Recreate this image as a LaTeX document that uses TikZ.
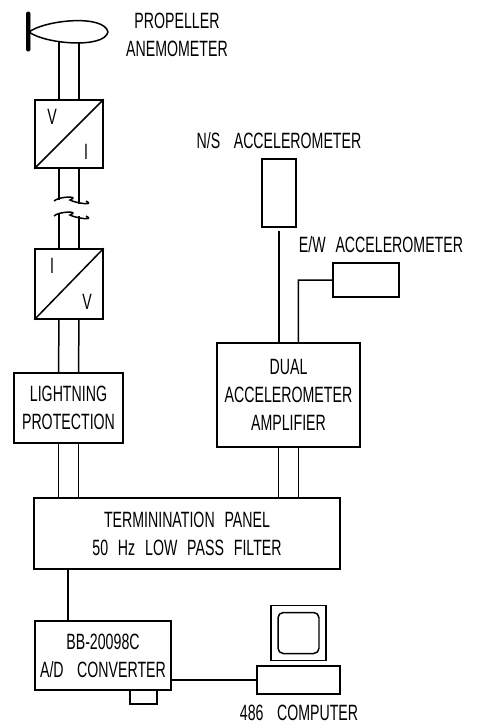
\documentclass[tikz,border=0pt]{standalone}
\usepackage{fontspec}
\setmainfont[FakeStretch=0.64, WordSpace=2.5]{Liberation Sans}
\usepackage{tikz}
\usetikzlibrary{positioning, calc}

\begin{document}
\begin{tikzpicture}[
    x=0.02cm, y=-0.02cm,
    every node/.style={font=\fontsize{12.6}{16}\selectfont, inner sep=0pt},
    wire/.style={draw, line width=0.85pt},
    block/.style={draw, line width=0.85pt, align=center},
    conv/.style={block, minimum width=1.36cm, minimum height=1.36cm}
]
\useasboundingbox (0,0) rectangle (481,727);

% propeller
\coordinate (hub) at (29,32);
\coordinate (foil_s) at (69,42);
\draw[wire] (hub) .. controls (45,20) and (104,14) .. (108,32)
    .. controls (104,49) and (45,44) .. (hub);
\draw[fill=black, rounded corners=0.6pt, line width=0.3pt] (26.5,12) rectangle (30,51);
\node (propeller) at (177,35) [align=center] {PROPELLER\\ANEMOMETER};

% left column
\node[conv] (vi) at (69,134) {};
\draw[wire] (vi.south west) -- (vi.north east);
\node (vi_v) at (52,117) {V};
\node (vi_i) at (86,152) {I};
\node[conv, minimum height=1.4cm] (iv) at (69,284) {};
\draw[wire] (iv.south west) -- (iv.north east);
\node (iv_i) at (52,266) {I};
\node (iv_v) at (87,302) {V};
\node[block, minimum width=2.18cm, minimum height=1.4cm] (lightning) at (68.5,408) {LIGHTNING\\PROTECTION};

% right column
\node[block, minimum width=0.68cm, minimum height=1.36cm] (ns) at (279,193) {};
\node (ns_label) at (279,141) {N/S\, ACCELEROMETER};
\node[block, minimum width=1.32cm, minimum height=0.68cm] (ew) at (366,280) {};
\node (ew_label) at (381,245) {E/W ACCELEROMETER};
\node[block, minimum width=2.86cm, minimum height=2.08cm] (dual) at (288.5,395) {DUAL\\ACCELEROMETER\\AMPLIFIER};

% bottom row
\node[block, minimum width=6.12cm, minimum height=1.42cm] (panel) at (187,533.5) {TERMININATION PANEL\\50 Hz LOW PASS FILTER};
\node[block, minimum width=2.72cm, minimum height=1.38cm] (adc) at (103,655.5) {BB-20098C\\A/D\, CONVERTER};
\node[block, minimum width=1.66cm, minimum height=0.56cm] (computer) at (298.5,680) {};
\node[block, minimum width=1.1cm, minimum height=1.1cm] (monitor) at (298.5,633) {};
\node[draw, line width=0.85pt, rounded corners=3pt, minimum width=0.82cm, minimum height=0.82cm] (screen) at (298.5,633) {};
\node (computer_label) at (299,713) {486\, COMPUTER};
\coordinate (slot_l) at (130,690);
\coordinate (slot_r) at (157,690);
\draw[wire] (slot_l) -- ++(0,14) -- ++(27,0) -- (slot_r);

% double wires
\foreach \dx/\upy/\lowy in {-0.2cm/200/214, 0.2cm/203.5/216} {
    \draw[wire] ([xshift=\dx]foil_s) -- ([xshift=\dx]vi.north);
    \draw[wire] ([xshift=\dx]vi.south) -- ([xshift=\dx]vi.south |- 0,\upy);
    \draw[wire] ([xshift=\dx]iv.north) -- ([xshift=\dx]iv.north |- 0,\lowy);
    \draw[wire] ([xshift=\dx]iv.south) -- ([xshift=\dx]lightning.north);
    \draw[wire] ([xshift=\dx]lightning.south) -- ([xshift=\dx]lightning.south |- panel.north);
    \draw[wire] ([xshift=\dx]dual.south) -- ([xshift=\dx]dual.south |- panel.north);
}

% cable break
\coordinate (break_top) at (54,201);
\coordinate (break_low) at (54,216);
\foreach \brk in {break_top, break_low} {
    \draw[wire] (\brk) .. controls +(5,-5) and +(11,-4) .. ++(16,-1)
        .. controls +(5,3) and +(10,5) .. ++(16,1);
}

% single wires
\draw[wire] ([yshift=-0.06cm]ns.south) -- (ns.south |- dual.north);
\draw[wire] (ew.west) -- ++(-34,0) -- ([xshift=0.2cm]dual.north);
\draw[wire] ([xshift=-0.7cm]adc.north |- panel.south) -- ([xshift=-0.7cm]adc.north);
\draw[wire] (adc.east |- computer.west) -- (computer.west);
\end{tikzpicture}
\end{document}
